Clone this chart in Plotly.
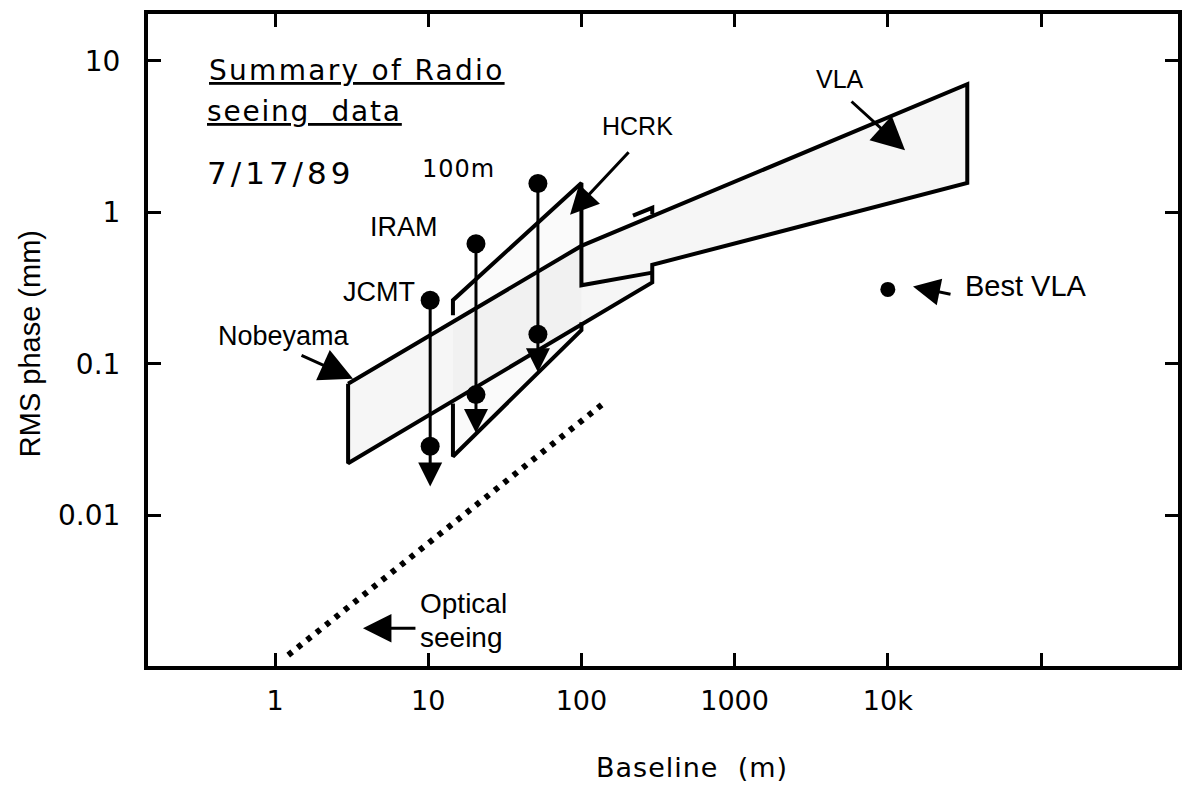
import numpy as np
import plotly.graph_objects as go

# ---------------- data ----------------
# Nobeyama + VLA band outline (baseline in m, rms phase in mm)
band_x = [3, 100, 33000, 33000, 290, 290, 3, 3]
band_y = [0.074, 0.6, 7.0, 1.56, 0.45, 0.345, 0.0221, 0.074]

# IRAM / HCRK polygon (visible edge pieces)
iram_fill_x = [14.5, 100, 100, 14.5]
iram_fill_y = [0.263, 1.56, 0.167, 0.0245]
iram_upper_x = [14.5, 14.5, 100, 100, 290]
iram_upper_y = [0.209, 0.263, 1.56, 0.33, 0.40]
iram_lower_x = [14.5, 14.5, 100, 100]
iram_lower_y = [0.0547, 0.0245, 0.167, 0.188]
hcrk_sliver_x = [217, 290, 290]
hcrk_sliver_y = [0.95, 1.07, 0.97]

# single-dish / short-baseline measurements (JCMT, IRAM, 100m)
meas_x = [10.3, 20.5, 52]
meas_top = [0.263, 0.62, 1.55]
meas_low = [0.0286, 0.0627, 0.157]
meas_tip = [0.0155, 0.035, 0.088]

# best VLA point
best_x = [10000]
best_y = [0.31]

# optical seeing line
optical_x = [1.22, 136]
optical_y = [0.0012, 0.0538]

# ticks
xtick_vals = [1, 10, 100, 1000, 10000, 100000]
xtick_text = ["1", "10", "100", "1000", "10k", ""]
ytick_vals = [0.01, 0.1, 1, 10]
ytick_text = ["0.01", "0.1", "1", "10"]

# label texts and their positions (data units)
labels = [
    ("<span style='text-decoration:underline;letter-spacing:2.3px'>Summary of Radio</span>", 0.36, 8.6, "left", "DejaVu Sans", 28),
    ("<span style='text-decoration:underline;letter-spacing:1.8px'>seeing  data</span>", 0.35, 4.64, "left", "DejaVu Sans", 28),
    ("<span style='letter-spacing:4px'>7/17/89</span>", 0.35, 1.82, "left", "DejaVu Sans", 31),
    ("<span style='letter-spacing:1px'>100m</span>", 8.84, 1.93, "left", "DejaVu Sans", 24),
    ("IRAM", 6.95, 0.803, "center", "Liberation Sans", 27),
    ("JCMT", 4.77, 0.296, "center", "Liberation Sans", 27),
    ("Nobeyama", 1.145, 0.153, "center", "Liberation Sans", 27),
    ("HCRK", 231, 3.69, "center", "Liberation Sans", 25),
    ("VLA", 4875, 7.62, "center", "Liberation Sans", 25),
    ("Best VLA", 30970, 0.324, "left", "Liberation Sans", 29),
    ("Optical", 8.58, 0.00263, "left", "Liberation Sans", 28),
    ("seeing", 8.58, 0.00157, "left", "Liberation Sans", 28),
]

# pointer arrows: tip (data) and tail offset (px), head size
pointers = [
    (3.23, 0.0798, -53, -24, 2.2),     # Nobeyama
    (84.3, 0.963, 60, -64, 1.9),       # HCRK
    (12950, 2.57, -55, -50, 2.2),      # VLA
    (14600, 0.324, 39, 8, 1.8),        # Best VLA
    (3.75, 0.0018, 54, 0, 1.9),        # Optical seeing
]

fig = go.Figure()

fig.add_trace(go.Scatter(x=band_x, y=band_y, fill="toself", fillcolor="rgba(0,0,0,0.035)",
                         mode="lines", line=dict(color="black", width=4), hoverinfo="skip"))
fig.add_trace(go.Scatter(x=iram_fill_x + [iram_fill_x[0]], y=iram_fill_y + [iram_fill_y[0]],
                         fill="toself", fillcolor="rgba(0,0,0,0.02)", mode="none", hoverinfo="skip"))
for xs, ys in [(iram_upper_x, iram_upper_y), (iram_lower_x, iram_lower_y), (hcrk_sliver_x, hcrk_sliver_y)]:
    fig.add_trace(go.Scatter(x=xs, y=ys, mode="lines", line=dict(color="black", width=4),
                             hoverinfo="skip"))

fig.add_trace(go.Scatter(x=optical_x, y=optical_y, mode="lines",
                         line=dict(color="black", width=6, dash="5px,7px"), hoverinfo="skip"))

fig.add_trace(go.Scatter(x=meas_x + meas_x, y=meas_top + meas_low, mode="markers",
                         marker=dict(color="black", size=19), hoverinfo="skip"))
fig.add_trace(go.Scatter(x=best_x, y=best_y, mode="markers",
                         marker=dict(color="black", size=15), hoverinfo="skip"))

# vertical measurement arrows
for xv, yt, yp in zip(meas_x, meas_top, meas_tip):
    fig.add_annotation(x=np.log10(xv), y=np.log10(yp), ax=np.log10(xv), ay=np.log10(yt),
                       xref="x", yref="y", axref="x", ayref="y", text="", showarrow=True,
                       arrowhead=2, arrowsize=1.6, arrowwidth=3, arrowcolor="black", standoff=0)

for tx, ty, dx, dy, sz in pointers:
    fig.add_annotation(x=np.log10(tx), y=np.log10(ty), ax=dx, ay=dy, xref="x", yref="y",
                       text="", showarrow=True, arrowhead=2, arrowsize=sz, arrowwidth=3,
                       arrowcolor="black", standoff=0)

for txt, lx, ly, anc, fam, fs in labels:
    fig.add_annotation(x=np.log10(lx), y=np.log10(ly), xref="x", yref="y", text=txt,
                       showarrow=False, xanchor=anc, yanchor="middle",
                       font=dict(family=fam, size=fs, color="black"))

# axis titles
fig.add_annotation(text="<span style='letter-spacing:1px'>Baseline  (m)</span>",
                   xref="paper", yref="paper", x=0.528, y=-0.155,
                   xanchor="center", yanchor="middle", showarrow=False,
                   font=dict(family="DejaVu Sans", size=27, color="black"))
fig.add_annotation(text="RMS phase (mm)", xref="paper", yref="paper", x=-0.1146, y=0.495,
                   xanchor="center", yanchor="middle", textangle=-90, showarrow=False,
                   font=dict(family="Liberation Sans", size=29, color="black"))

axis_common = dict(type="log", ticks="inside", ticklen=13, tickwidth=3, tickcolor="black",
                   showline=True, linewidth=4, linecolor="black", mirror="ticks",
                   showgrid=False, zeroline=False)

fig.update_xaxes(range=[-0.829, 5.894], tickvals=xtick_vals, ticktext=xtick_text,
                 tickfont=dict(family="DejaVu Sans", size=27, color="black"),
                 ticklabelstandoff=8, **axis_common)
fig.update_yaxes(range=[-2.993, 1.308], tickvals=ytick_vals, ticktext=ytick_text,
                 tickfont=dict(family="DejaVu Sans", size=28, color="black"),
                 ticklabelstandoff=18, **axis_common)

fig.update_layout(width=1196, height=788, margin=dict(l=148, r=18, t=10, b=122),
                  paper_bgcolor="white", plot_bgcolor="white", showlegend=False)

fig.write_html("out.html")
